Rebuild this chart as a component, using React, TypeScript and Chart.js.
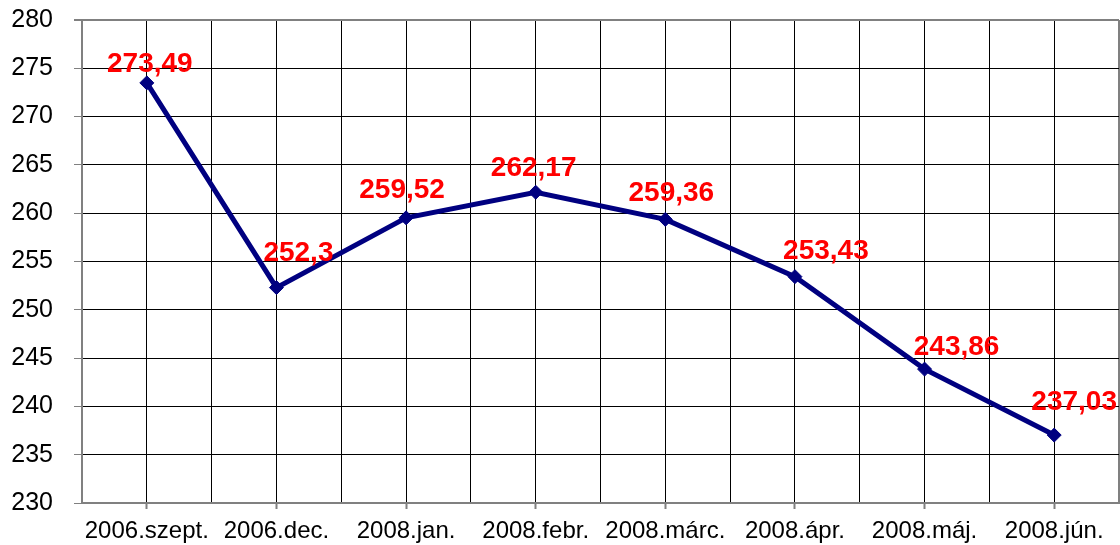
import React, { useEffect, useRef } from 'react';
import { Chart, registerables } from 'chart.js';

Chart.register(...registerables);

const categories = ['2006.szept.', '2006.dec.', '2008.jan.', '2008.febr.', '2008.márc.', '2008.ápr.', '2008.máj.', '2008.jún.'];
const values = [273.49, 252.3, 259.52, 262.17, 259.36, 253.43, 243.86, 237.03];
const yMin = 230;
const yMax = 280;
const yStep = 5;

const FONT = '"Liberation Sans", Arial, sans-serif';
const LABEL_SIZE = 28;

// hand-placed label nudges (dx, dy of label center relative to the point)
const labelNudges: [number, number][] = [
  [3, -21], [22, -37], [-4, -30], [-2, -26], [6, -28], [31, -28], [32, -24], [20, -35],
];

const valueLabelPlugin = {
  id: 'valueLabels',
  afterDatasetsDraw(chart: any) {
    const ctx = chart.ctx;
    const meta = chart.getDatasetMeta(0);
    ctx.save();
    ctx.fillStyle = '#FF0000';
    ctx.font = `bold ${LABEL_SIZE}px ${FONT}`;
    ctx.textAlign = 'center';
    ctx.textBaseline = 'alphabetic';
    meta.data.forEach((pt: any, i: number) => {
      const v = values[i];
      const txt = String(v).replace('.', ',');
      const [dx, dy] = labelNudges[i] || [0, -28];
      ctx.fillText(txt, pt.x + dx, pt.y + dy + 0.358 * LABEL_SIZE);
    });
    ctx.restore();
  },
};

const zeroPads = (scale: any) => {
  scale.paddingLeft = 0;
  scale.paddingRight = 0;
  scale.paddingTop = 0;
  scale.paddingBottom = 0;
};

export default function App() {
  const ref = useRef<HTMLCanvasElement | null>(null);

  useEffect(() => {
    document.body.style.margin = '0';
    const canvas = ref.current;
    if (!canvas) return;
    const chart = new Chart(canvas, {
      type: 'line',
      data: {
        datasets: [
          {
            data: values.map((v, i) => ({ x: i, y: v })),
            borderColor: '#000080',
            backgroundColor: '#000080',
            borderWidth: 5,
            pointStyle: 'rectRot',
            pointRadius: 7,
            pointBorderWidth: 1,
            pointBackgroundColor: '#000080',
            pointBorderColor: '#000080',
            tension: 0,
            clip: false,
          },
        ],
      },
      options: {
        animation: false,
        responsive: false,
        maintainAspectRatio: false,
        layout: { autoPadding: false, padding: { top: 20, right: 1, left: 0, bottom: 0 } },
        plugins: {
          legend: { display: false },
          tooltip: { enabled: false },
        },
        scales: {
          x: {
            type: 'linear',
            min: -0.5,
            max: categories.length - 0.5,
            afterFit: (scale: any) => {
              scale.height = 42;
              zeroPads(scale);
            },
            ticks: {
              stepSize: 0.5,
              autoSkip: false,
              maxRotation: 0,
              minRotation: 0,
              padding: 8,
              color: '#000',
              font: { family: FONT, size: 24 },
              callback: (v: any) => (Number.isInteger(v) ? categories[v] : ''),
            },
            grid: {
              color: (c: any) => (c.index === categories.length * 2 ? '#808080' : '#000'),
              lineWidth: (c: any) => (c.index === categories.length * 2 ? 2 : 1),
              tickLength: 6,
              tickColor: (c: any) => (c.tick && Number.isInteger(c.tick.value) ? '#808080' : 'rgba(0,0,0,0)'),
              tickWidth: 2,
            },
            border: { color: '#808080', width: 2 },
          },
          y: {
            type: 'linear',
            min: yMin,
            max: yMax,
            afterFit: (scale: any) => {
              scale.width = 82;
              zeroPads(scale);
            },
            ticks: {
              stepSize: yStep,
              padding: 21,
              color: '#000',
              font: { family: FONT, size: 25 },
            },
            grid: {
              color: (c: any) => (c.tick && c.tick.value === yMax ? '#808080' : '#000'),
              lineWidth: (c: any) => (c.tick && c.tick.value === yMax ? 2 : 1),
              tickLength: 8,
              tickColor: '#808080',
            },
            border: { color: '#808080', width: 2 },
          },
        },
      },
      plugins: [valueLabelPlugin],
    });
    return () => chart.destroy();
  }, []);

  return (
    <div style={{ width: 1120, height: 545 }}>
      <canvas ref={ref} width={1120} height={545} style={{ display: 'block', width: 1120, height: 545 }} />
    </div>
  );
}
